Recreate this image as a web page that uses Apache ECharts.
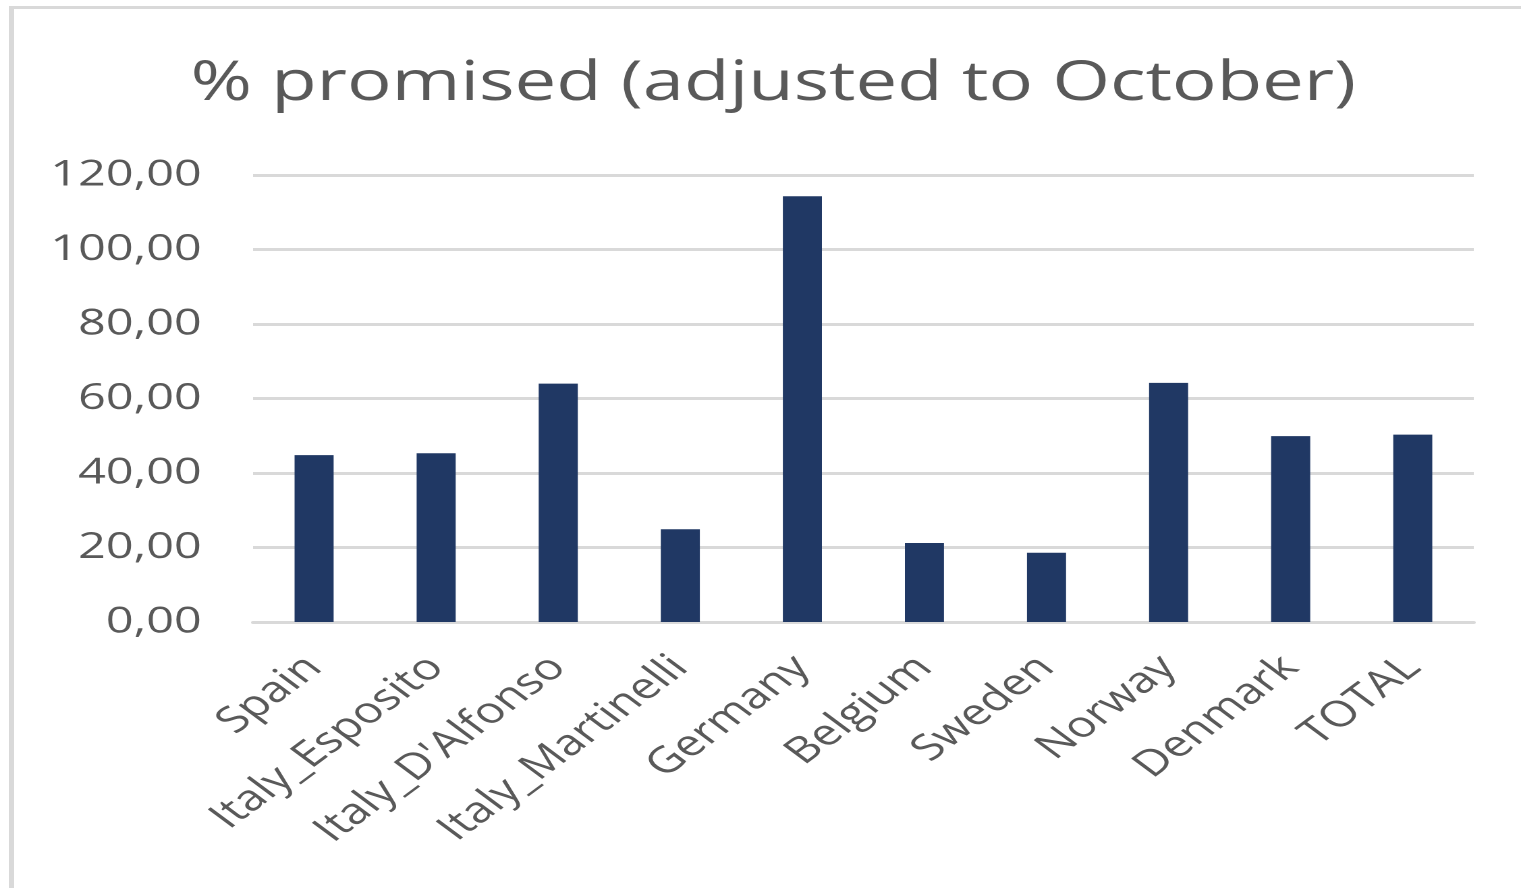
<!DOCTYPE html>
<html>
<head>
<meta charset="utf-8">
<script src="https://cdn.jsdelivr.net/npm/echarts@6/dist/echarts.min.js"></script>
<style>
  html, body { margin: 0; padding: 0; background: #ffffff; overflow: hidden; }
  #wrap { position: absolute; left: 0; top: 0; width: 1521px; height: 888px; overflow: hidden; background:#fff; }
  #frameL { position: absolute; left: 9px; top: 6px; width: 5px; height: 900px; background: #d9d9d9; }
  #frameT { position: absolute; left: 9px; top: 6px; width: 1600px; height: 3px; background: #d9d9d9; }
  #chart { position: absolute; left: 0; top: 0; width: 1127px; height: 888px; transform-origin: 0 0; transform: scaleX(1.3496); }
</style>
</head>
<body>
<div id="wrap">
  <div id="chart"></div>
  <div id="frameL"></div>
  <div id="frameT"></div>
</div>
<script>
const categories = ["Spain", "Italy_Esposito", "Italy_D'Alfonso", "Italy_Martinelli", "Germany", "Belgium", "Sweden", "Norway", "Denmark", "TOTAL"];
const promised = [44.8, 45.3, 64.0, 24.9, 114.3, 21.2, 18.6, 64.2, 49.9, 50.3];
const titleText = "% promised (adjusted to October)";

const chart = echarts.init(document.getElementById('chart'), null, { renderer: 'canvas', devicePixelRatio: 2 });
const textColor = '#595959';
const fontFamily = "'Open Sans', 'Noto Sans', sans-serif";
chart.setOption({
  animation: false,
  backgroundColor: 'transparent',
  title: {
    text: titleText,
    left: 568,
    top: 52,
    textAlign: 'center',
    textStyle: { color: textColor, fontSize: 55, fontWeight: 'normal', fontFamily: fontFamily }
  },
  grid: { left: 187.5, right: 35, top: 175, bottom: 266, containLabel: false },
  xAxis: {
    type: 'category',
    data: categories,
    axisLine: { show: true, lineStyle: { color: '#d9d9d9', width: 3 } },
    axisTick: { show: false },
    axisLabel: {
      interval: 0, rotate: 45, margin: 40,
      color: textColor, fontSize: 36, fontFamily: fontFamily
    }
  },
  yAxis: {
    type: 'value',
    min: 0, max: 120, interval: 20,
    axisLine: { show: false },
    axisTick: { show: false },
    splitLine: { lineStyle: { color: '#d9d9d9', width: 3 } },
    axisLabel: {
      margin: 38,
      color: textColor, fontSize: 36, fontFamily: fontFamily,
      formatter: v => v.toFixed(2).replace('.', ',')
    }
  },
  series: [{
    type: 'bar',
    data: promised,
    barWidth: '32%',
    itemStyle: { color: '#203864' }
  }]
});
</script>
</body>
</html>
